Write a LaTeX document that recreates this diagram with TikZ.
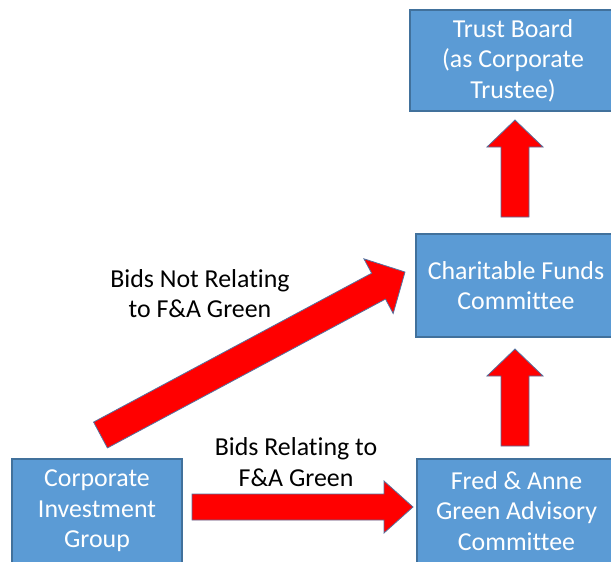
\documentclass[tikz,border=0pt]{standalone}
\usepackage{fontspec}
\setmainfont[Ligatures=NoCommon]{Carlito}
\usetikzlibrary{calc}
\definecolor{boxfill}{HTML}{5B9BD5}
\definecolor{boxline}{HTML}{41719C}
\definecolor{arrowline}{HTML}{56719E}
\tikzset{
  orgbox/.style={draw=boxline, fill=boxfill, line width=0.8pt, text=white,
    font=\fontsize{19.4}{23}\selectfont, align=center, inner sep=0pt},
  flowlabel/.style={text=black, font=\fontsize{19.4}{23}\selectfont, align=center, inner sep=0pt},
  blockarrow/.style={fill=red, draw=arrowline, line width=0.6pt, line join=miter},
}
% block arrow from #1 to #2: shaft half width #3, head half width #4, head length #5
\newcommand\blockarrow[5]{%
  \coordinate (#1-#2-h) at ($(#2)!#5!(#1)$);
  \draw[blockarrow]
    ($(#1)!#3!90:(#2)$) -- ($(#1-#2-h)!#3!90:(#2)$) -- ($(#1-#2-h)!#4!90:(#2)$)
    -- (#2)
    -- ($(#1-#2-h)!#4!-90:(#2)$) -- ($(#1-#2-h)!#3!-90:(#2)$) -- ($(#1)!#3!-90:(#2)$)
    -- cycle;}
\begin{document}
\begin{tikzpicture}[x=0.75pt, y=-0.75pt]
  \useasboundingbox (0,0) rectangle (611,561);
  \clip (0,0) rectangle (611,561);

  % committees
  \node[orgbox, minimum width=154.5pt, minimum height=75.75pt] (trust) at (513,60.5)
    {Trust Board\\(as Corporate\\Trustee)};
  \node[orgbox, minimum width=150pt, minimum height=77.25pt] (charity) at (516,285.5)
    {Charitable Funds\\Committee};
  \node[orgbox, minimum width=149.25pt, minimum height=78pt] (fred) at (516.5,511)
    {Fred \& Anne\\Green Advisory\\Committee};
  \node[orgbox, minimum width=127.5pt, minimum height=78pt] (cig) at (97,511)
    {Corporate\\Investment\\Group};

  % arrow ends
  \coordinate (up1s) at (515,217);
  \coordinate (up1e) at (515,120);
  \coordinate (up2s) at (515,446);
  \coordinate (up2e) at (515,349);
  \coordinate (hs) at (192,507);
  \coordinate (he) at (413,507);
  \coordinate (ds) at (100.5,435);
  \coordinate (de) at (405,272);

  \blockarrow{up1s}{up1e}{10.5pt}{21pt}{20.25pt}
  \blockarrow{up2s}{up2e}{10.5pt}{21pt}{20.25pt}
  \blockarrow{hs}{he}{9.75pt}{19.5pt}{21.75pt}
  \blockarrow{ds}{de}{11pt}{23.25pt}{22.5pt}

  % flow labels
  \node[flowlabel] (notfa) at (200,293.5) {Bids Not Relating\\to F\&A Green};
  \node[flowlabel] (fa) at (296,462) {Bids Relating to\\F\&A Green};
\end{tikzpicture}
\end{document}
